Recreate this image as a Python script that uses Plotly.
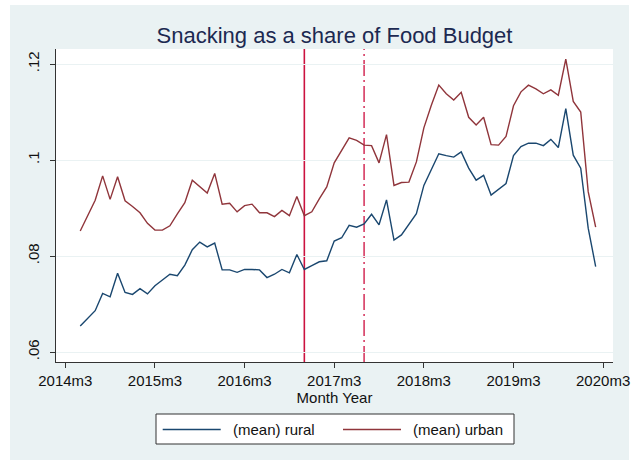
import plotly.graph_objects as go


def tm(label):
    """Convert a Stata-style monthly label such as '2014m3' to a %tm month number."""
    year, month = label.split("m")
    return (int(year) - 1960) * 12 + int(month) - 1


# Monthly observations, 2014m5 .. 2020m2
first_month = "2014m5"
n_months = 70

rural = [
    0.0654, 0.0670, 0.0686, 0.0722, 0.0715, 0.0764, 0.0724, 0.0720, 0.0732, 0.0721,
    0.0738, 0.0750, 0.0762, 0.0759, 0.0781, 0.0813, 0.0829, 0.0819, 0.0827, 0.0771,
    0.0771, 0.0766, 0.0772, 0.0772, 0.0771, 0.0755, 0.0762, 0.0772, 0.0765, 0.0803,
    0.0772, 0.0780, 0.0788, 0.0790, 0.0831, 0.0838, 0.0864, 0.0860, 0.0867, 0.0887,
    0.0865, 0.0917, 0.0833, 0.0844, 0.0866, 0.0888, 0.0947, 0.0979, 0.1013, 0.1009,
    0.1006, 0.1017, 0.0983, 0.0958, 0.0968, 0.0927, 0.0939, 0.0951, 0.1009, 0.1028,
    0.1035, 0.1035, 0.1030, 0.1043, 0.1026, 0.1107, 0.1010, 0.0983, 0.0858, 0.0778,
]

urban = [
    0.0852, 0.0883, 0.0916, 0.0967, 0.0918, 0.0965, 0.0915, 0.0903, 0.0890, 0.0868,
    0.0854, 0.0854, 0.0863, 0.0888, 0.0911, 0.0958, 0.0944, 0.0931, 0.0972, 0.0908,
    0.0910, 0.0892, 0.0905, 0.0908, 0.0890, 0.0890, 0.0882, 0.0895, 0.0884, 0.0924,
    0.0884, 0.0892, 0.0919, 0.0944, 0.0994, 0.1021, 0.1046, 0.1041, 0.1031, 0.1030,
    0.0994, 0.1053, 0.0947, 0.0953, 0.0954, 0.0996, 0.1067, 0.1114, 0.1156, 0.1138,
    0.1125, 0.1141, 0.1089, 0.1073, 0.1089, 0.1032, 0.1031, 0.1049, 0.1113, 0.1142,
    0.1156, 0.1148, 0.1138, 0.1146, 0.1135, 0.1210, 0.1122, 0.1100, 0.0934, 0.0860,
]

series_names = ["(mean) rural", "(mean) urban"]
series_colors = ["#1A476F", "#90353B"]

x_tick_labels = ["2014m3", "2015m3", "2016m3", "2017m3", "2018m3", "2019m3", "2020m3"]
y_tick_values = [0.06, 0.08, 0.10, 0.12]
y_tick_labels = [".06", ".08", ".1", ".12"]

# Policy events marked with vertical lines
event_solid = "2016m11"
event_dash = "2017m7"

months = [tm(first_month) + i for i in range(n_months)]
x_tick_values = [tm(s) for s in x_tick_labels]

W, H = 635, 464
ML, MR, MT, MB = 56, 22, 49, 102
PW, PH = W - ML - MR, H - MT - MB


def px_x(px):
    return (px - ML) / PW


def px_y(py):
    return (H - MB - py) / PH


FONT = "Liberation Sans, Arial, sans-serif"
BG = "#EAF2F3"

fig = go.Figure()
for name, vals, col in zip(series_names, [rural, urban], series_colors):
    fig.add_trace(go.Scatter(
        x=months, y=vals, mode="lines", name=name,
        line=dict(color=col, width=1.4), showlegend=False,
    ))

shapes = [
    # outer graph region
    dict(type="rect", xref="paper", yref="paper", layer="below",
         x0=px_x(10), x1=px_x(629), y0=px_y(460), y1=px_y(5),
         fillcolor=BG, line=dict(width=0)),
    # plot region
    dict(type="rect", xref="paper", yref="paper", layer="below",
         x0=0, x1=1, y0=0, y1=1, fillcolor="white", line=dict(width=0)),
    # event lines
    dict(type="line", xref="x", yref="paper", layer="between",
         x0=tm(event_solid), x1=tm(event_solid), y0=0, y1=1,
         line=dict(color="#CC1240", width=1.6)),
    dict(type="line", xref="x", yref="paper", layer="between",
         x0=tm(event_dash), x1=tm(event_dash), y0=0, y1=1,
         line=dict(color="#D63A62", width=1.6, dash="16px,4px,2px,4px")),
    # legend box
    dict(type="rect", xref="paper", yref="paper",
         x0=px_x(156), x1=px_x(514), y0=px_y(444), y1=px_y(414),
         fillcolor="white", line=dict(color="#333333", width=1)),
]

annotations = []
legend_items = [(162.7, 220.7, 231), (343, 401, 411)]
for (lx0, lx1, tx), name, col in zip(legend_items, series_names, series_colors):
    shapes.append(dict(type="line", xref="paper", yref="paper",
                       x0=px_x(lx0), x1=px_x(lx1), y0=px_y(429.5), y1=px_y(429.5),
                       line=dict(color=col, width=1.4)))
    annotations.append(dict(xref="paper", yref="paper", x=px_x(tx), y=px_y(429.5),
                            text=name, showarrow=False, xanchor="left", yanchor="middle",
                            font=dict(family=FONT, size=15, color="#111111")))

fig.update_layout(
    width=W, height=H,
    margin=dict(l=ML, r=MR, t=MT, b=MB, pad=0),
    paper_bgcolor="white", plot_bgcolor="white",
    shapes=shapes, annotations=annotations,
    title=dict(text="Snacking as a share of Food Budget", x=0.5, xref="paper",
               xanchor="center", y=1 - 35 / H, yref="container", yanchor="middle",
               font=dict(family=FONT, size=22, color="#1C2951")),
    font=dict(family=FONT, size=15, color="#111111"),
)

fig.update_xaxes(
    range=[tm("2014m3") - 1.245, tm("2014m3") + 73.32],
    automargin=False,
    tickmode="array", tickvals=x_tick_values, ticktext=x_tick_labels,
    ticks="outside", ticklen=5, tickcolor="#333333", tickwidth=1,
    showline=True, linecolor="#333333", linewidth=1,
    showgrid=False, zeroline=False,
    tickfont=dict(family=FONT, size=15, color="#111111"),
    title=dict(text="Month Year", standoff=0,
               font=dict(family=FONT, size=15, color="#111111")),
)

fig.update_yaxes(
    range=[0.057917, 0.123125],
    automargin=False,
    tickmode="array", tickvals=y_tick_values, ticktext=y_tick_labels,
    tickangle=-90, ticklabelstandoff=5,
    ticks="outside", ticklen=5, tickcolor="#333333", tickwidth=1,
    showline=True, linecolor="#333333", linewidth=1,
    showgrid=True, gridcolor=BG, gridwidth=1.2, zeroline=False,
    tickfont=dict(family=FONT, size=15, color="#111111"),
)

fig.write_html("out.html")
